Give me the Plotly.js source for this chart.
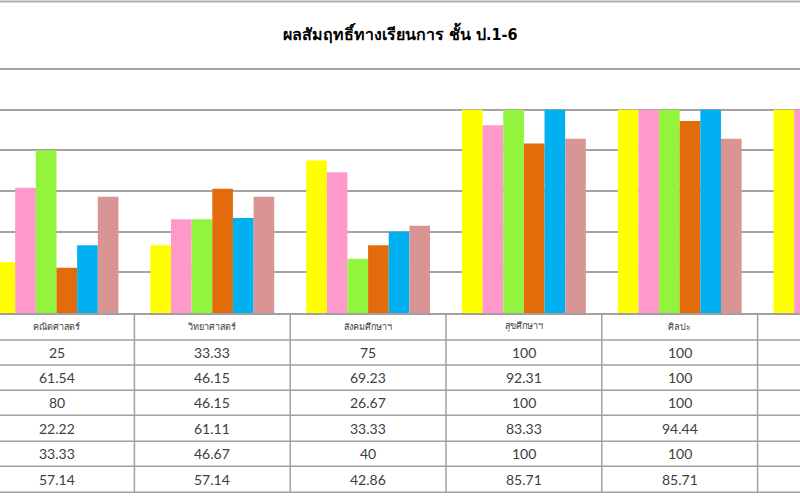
<!DOCTYPE html>
<html>
<head>
<meta charset="utf-8">
<script src="https://cdn.plot.ly/plotly-3.0.1.min.js"></script>
<style>html,body{margin:0;padding:0;background:#fff}#chart{width:800px;height:500px}</style>
</head>
<body>
<div id="chart"></div>
<script>
// ---- data ----
var categories = ["คณิตศาสตร์", "วิทยาศาสตร์", "สังคมศึกษาฯ", "สุขศึกษาฯ", "ศิลปะ", "การงานอาชีพฯ"];
var seriesNames = ["ป.1", "ป.2", "ป.3", "ป.4", "ป.5", "ป.6"];
var p1 = [25, 33.33, 75, 100, 100, 100];
var p2 = [61.54, 46.15, 69.23, 92.31, 100, 100];
var p3 = [80, 46.15, 26.67, 100, 100, null];
var p4 = [22.22, 61.11, 33.33, 83.33, 94.44, null];
var p5 = [33.33, 46.67, 40, 100, 100, null];
var p6 = [57.14, 57.14, 42.86, 85.71, 85.71, null];
var titleText = "ผลสัมฤทธิ์ทางเรียนการ ชั้น ป.1-6";

var allSeries = [p1, p2, p3, p4, p5, p6];
var colors = ["#FFFF00", "#FF99CC", "#92F43C", "#E36C0A", "#00B0F0", "#D99594"];

// ---- layout geometry (pixels) ----
var W = 800, H = 500, plotTop = 69.4, plotBottom = 313;
var plotH = plotBottom - plotTop;
function pyToPaper(py) { return (plotBottom - py) / plotH; }

var traces = allSeries.map(function (vals, i) {
  return {
    type: "bar", x: categories, y: vals, name: seriesNames[i],
    marker: {color: colors[i], line: {width: 0}},
    hoverinfo: "skip"
  };
});

var shapes = [];
var annotations = [];
var gridCol = "#a3a3a3", tableCol = "#a0a0a0", textCol = "#404040";

// top border line
shapes.push({type: "line", xref: "paper", yref: "paper", x0: 0, x1: 1,
  y0: pyToPaper(2), y1: pyToPaper(2), line: {color: "#b0b0b0", width: 2}});
// top gridline (range edge)
shapes.push({type: "line", xref: "paper", yref: "paper", x0: 0, x1: 1,
  y0: 1, y1: 1, layer: "below", line: {color: gridCol, width: 2}});

// table rows
var rowLines = [340, 365, 390, 415, 441, 466, 492];
rowLines.forEach(function (py) {
  shapes.push({type: "line", xref: "paper", yref: "paper", x0: 0, x1: 1,
    y0: pyToPaper(py), y1: pyToPaper(py), line: {color: tableCol, width: 1.5}});
});
// table verticals at category boundaries
for (var c = 0; c <= categories.length; c++) {
  shapes.push({type: "line", xref: "x", yref: "paper", x0: c - 0.5, x1: c - 0.5,
    y0: pyToPaper(313), y1: pyToPaper(492), line: {color: tableCol, width: 1.5}});
}
// header labels
categories.forEach(function (cat, ci) {
  annotations.push({xref: "x", yref: "paper", x: ci, y: pyToPaper(326.5),
    text: cat, showarrow: false, xanchor: "center", yanchor: "middle",
    font: {family: "Tahoma, 'DejaVu Sans', sans-serif", size: 9, color: textCol}});
});
// values
var rowMid = [352.5, 377.5, 402.5, 428, 453.5, 479];
allSeries.forEach(function (vals, si) {
  vals.forEach(function (v, ci) {
    if (v === null) return;
    annotations.push({xref: "x", yref: "paper", x: ci, y: pyToPaper(rowMid[si]),
      text: String(v), showarrow: false, xanchor: "center", yanchor: "middle",
      font: {family: "Lato, 'Open Sans', sans-serif", size: 14, color: textCol}});
  });
});
// title
annotations.push({xref: "paper", yref: "paper", x: 0.5, y: pyToPaper(33),
  text: "<b>" + titleText + "</b>", showarrow: false, xanchor: "center", yanchor: "middle",
  font: {family: "'DejaVu Sans Condensed', 'DejaVu Sans', sans-serif", size: 16, color: "#000"}});

var catW = 155.8, cat0 = 56.5;
var layout = {
  width: W, height: H,
  margin: {l: 0, r: 0, t: plotTop, b: H - plotBottom, pad: 0},
  paper_bgcolor: "#fff", plot_bgcolor: "#fff",
  showlegend: false,
  barmode: "group", bargap: 0.205, bargroupgap: 0,
  xaxis: {type: "category", range: [-cat0 / catW, (W - cat0) / catW],
    showticklabels: false, ticks: "", showgrid: false, zeroline: false,
    showline: true, linecolor: tableCol, linewidth: 1.5, fixedrange: true},
  yaxis: {range: [0, 120], dtick: 20, showgrid: true, gridcolor: gridCol, gridwidth: 2,
    showticklabels: false, ticks: "", zeroline: false, showline: false, fixedrange: true},
  shapes: shapes, annotations: annotations
};

Plotly.newPlot("chart", traces, layout, {displayModeBar: false, staticPlot: true});
</script>
</body>
</html>
